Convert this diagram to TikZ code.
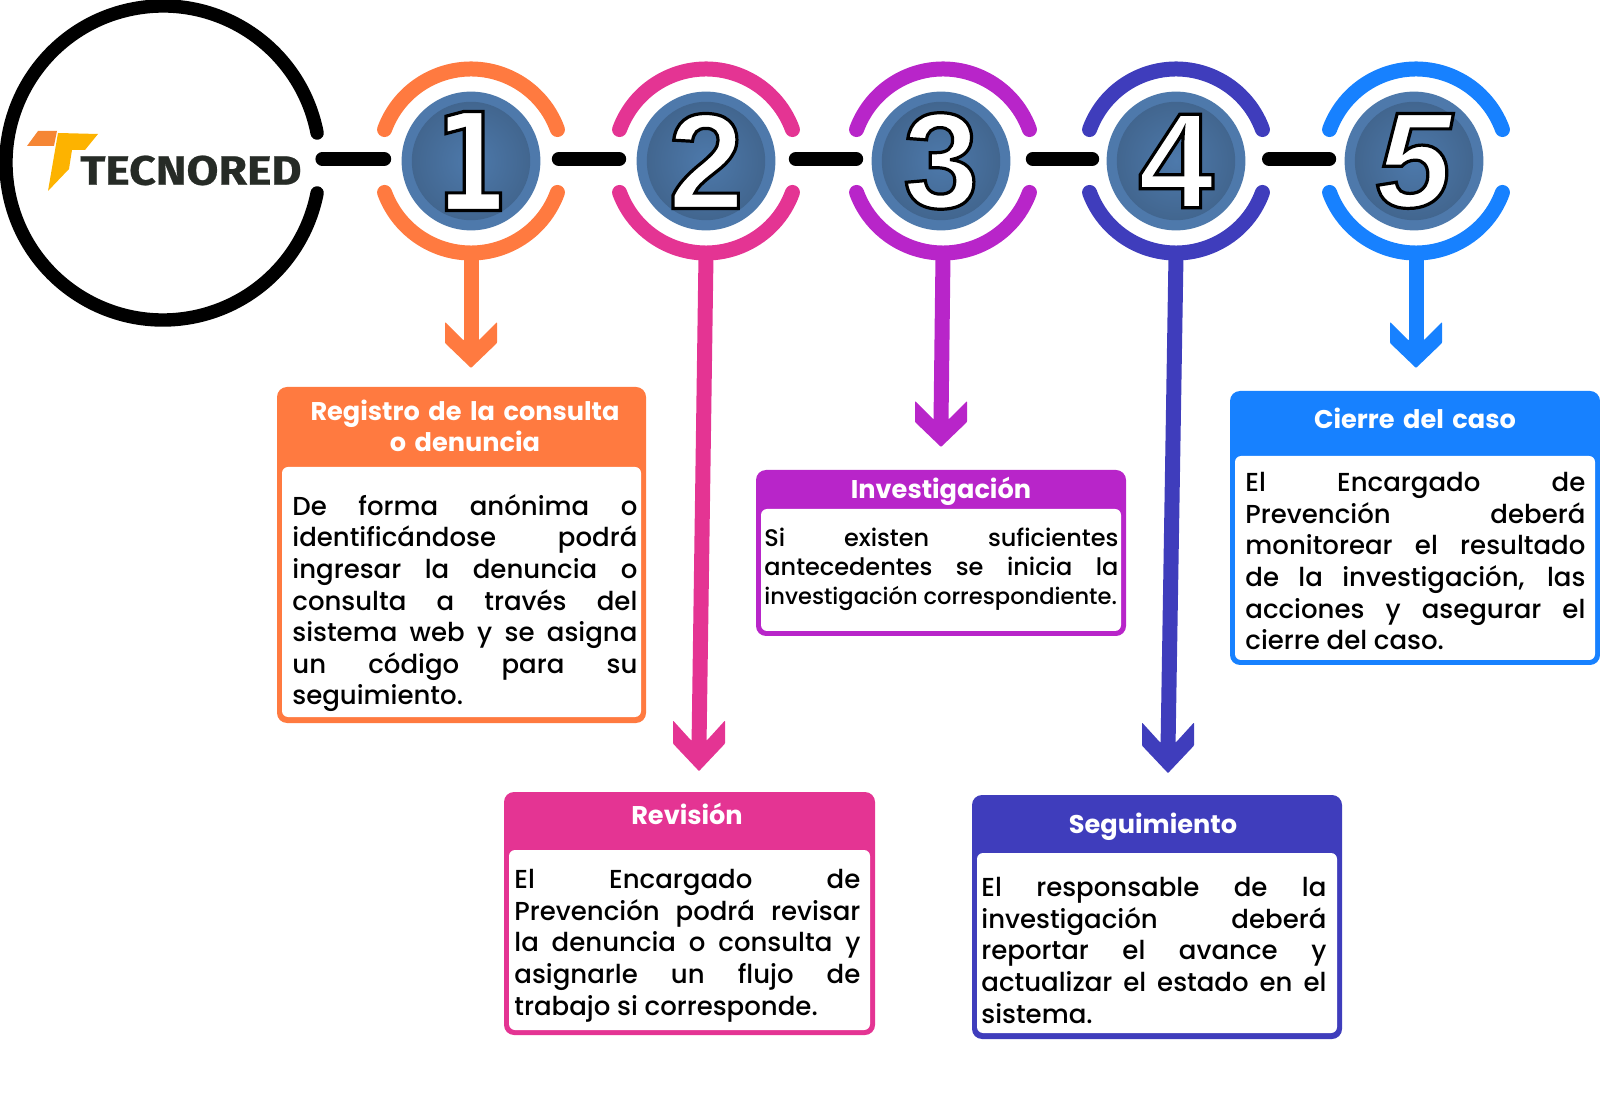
\documentclass[tikz,border=0pt]{standalone}
\usepackage{fontspec}
\usetikzlibrary{positioning, calc}
\setmainfont{Poppins Medium}[BoldFont={Poppins Bold}]
\newfontfamily\numfont{Liberation Sans}
\newfontfamily\onefont[BoldFeatures={FakeStretch=0.78}]{DejaVu Sans}
\newfontfamily\logofont[BoldFeatures={FakeStretch=1.13,FakeBold=0.6}]{Fira Sans}
\definecolor{corange}{HTML}{FF7A40}
\definecolor{cpink}{HTML}{E43493}
\definecolor{cpurple}{HTML}{B825C9}
\definecolor{cindigo}{HTML}{3F3DBC}
\definecolor{cblue}{HTML}{1781FF}
\definecolor{discedge}{HTML}{4E79AB}
\definecolor{discin}{HTML}{4D79AB}
\definecolor{discout}{HTML}{42668F}
\definecolor{logotext}{HTML}{262B26}
\definecolor{logoorange}{HTML}{F58634}
\definecolor{logoyellow}{HTML}{FDB300}
\newcommand{\outnum}[1]{\textcolor{white}{\special{pdf:code 2 Tr 1.6 w 0 0 0 RG}#1\special{pdf:code 0 Tr 1 w}}}

\begin{document}
\begin{tikzpicture}[
    x=0.5pt, y=0.5pt,
    ring/.style={line width=7.5pt, line cap=round},
    stem/.style={line width=7.5pt},
    link/.style={line width=7pt, line cap=round, black},
    disc/.style={circle, fill=discedge, minimum size=69.4pt, inner sep=0pt},
    discfill/.style={circle, inner color=discin, outer color=discout, minimum size=59.2pt, inner sep=0pt},
    number/.style={font=\numfont\bfseries\fontsize{68}{68}\selectfont},
    boxwhite/.style={fill=white, rounded corners=3pt, inner sep=0pt},
    boxtitle/.style={text=white, font=\bfseries\fontsize{12.8}{15.6}\selectfont, align=center, inner sep=0pt, text width=170pt},
    boxtext/.style={font=\fontsize{13}{15.8}\selectfont, align=justify, inner sep=0pt, anchor=north west, text=black},
    head/.pic={\fill[pic actions, rounded corners=0.4pt] (-26,45) -- (-26,24) -- (0,-1) -- (26,24) -- (26,45) -- (8,27) -- (-8,27) -- cycle;}
]
\useasboundingbox (0,-1095) rectangle (1600,0);

\node[inner sep=0pt, minimum size=163pt] (logo) at (163,-163) {};
\draw[line width=6.7pt, line cap=round, black] ([shift={(11:157)}]logo.center) arc (11:349:157);

\fill[logoorange] (27,-146) -- (38,-131) -- (57,-131) -- (54,-146) -- cycle;
\fill[logoyellow] (58,-133) -- (98,-134) -- (85,-150) -- (72,-150) -- (69,-169) -- (48,-191) -- cycle;
\node[text=logotext, font=\logofont\bfseries\fontsize{20.5}{20.5}\selectfont, anchor=west, inner sep=0pt] (brand) at (80,-170.5) {TECNORED};

\node[disc] (n1) at (471,-161) {};
\node[disc] (n2) at (706,-161) {};
\node[disc] (n3) at (941,-161) {};
\node[disc] (n4) at (1176,-161) {};
\node[disc] (n5) at (1414,-161) {};

\node[discfill] (fill1) at (n1) {};
\node[discfill] (fill2) at (n2) {};
\node[discfill] (fill3) at (n3) {};
\node[discfill] (fill4) at (n4) {};
\node[discfill] (fill5) at (n5) {};

\node[number, font=\onefont\bfseries\fontsize{68}{68}\selectfont] (num1) at (n1) {\outnum{1}};
\node[number] (num2) at (n2) {\outnum{2}};
\node[number] (num3) at (n3) {\outnum{3}};
\node[number] (num4) at (n4) {\outnum{4}};
\node[number, font=\numfont\bfseries\itshape\fontsize{68}{68}\selectfont] (num5) at (n5) {\outnum{5}};

\coordinate (c1) at (471,-161);
\coordinate (c2) at (706,-161);
\coordinate (c3) at (943,-161);
\coordinate (c4) at (1176,-161);
\coordinate (c5) at (1416,-161);

\draw[link] ([shift={(-2pt,4)}]logo.east) -- ([shift={(-8.5pt,1pt)}]n1.west);
\draw[link] ([shift={(9pt,1pt)}]n1.east) -- ([shift={(-8.5pt,1pt)}]n2.west);
\draw[link] ([shift={(10pt,1pt)}]n2.east) -- ([shift={(-7.5pt,1pt)}]n3.west);
\draw[link] ([shift={(11pt,1pt)}]n3.east) -- ([shift={(-7pt,1pt)}]n4.west);
\draw[link] ([shift={(11.6pt,1pt)}]n4.east) -- ([shift={(-7.5pt,1pt)}]n5.west);

\draw[ring, corange] ([shift={(20:92)}]c1) arc (20:160:92);
\draw[ring, corange] ([shift={(-20:92)}]c1) arc (-20:-160:92);
\draw[ring, cpink] ([shift={(20:92)}]c2) arc (20:160:92);
\draw[ring, cpink] ([shift={(-20:92)}]c2) arc (-20:-160:92);
\draw[ring, cpurple] ([shift={(20:92)}]c3) arc (20:160:92);
\draw[ring, cpurple] ([shift={(-20:92)}]c3) arc (-20:-160:92);
\draw[ring, cindigo] ([shift={(20:92)}]c4) arc (20:160:92);
\draw[ring, cindigo] ([shift={(-20:92)}]c4) arc (-20:-160:92);
\draw[ring, cblue] ([shift={(20:92)}]c5) arc (20:160:92);
\draw[ring, cblue] ([shift={(-20:92)}]c5) arc (-20:-160:92);

\coordinate (t1) at (471,-367);
\coordinate (t2) at (699,-770);
\coordinate (t3) at (941,-446);
\coordinate (t4) at (1168,-772);
\coordinate (t5) at (1416,-367);

\draw[stem, corange] ([yshift=-47pt]c1) -- ([yshift=12pt]t1);
\draw[stem, cpink] ([yshift=-47pt]c2) -- ([yshift=12pt]t2);
\draw[stem, cpurple] ([yshift=-47pt]c3) -- ([yshift=12pt]t3);
\draw[stem, cindigo] ([yshift=-47pt]c4) -- ([yshift=12pt]t4);
\draw[stem, cblue] ([yshift=-47pt]c5) -- ([yshift=12pt]t5);

\pic[fill=corange] at (t1) {head};
\pic[fill=cpink, yscale=1.1] at (t2) {head};
\pic[fill=cpurple] at (t3) {head};
\pic[fill=cindigo, yscale=1.1] at (t4) {head};
\pic[fill=cblue] at (t5) {head};

\fill[corange, rounded corners=5pt] (277,-387) rectangle (646,-723);
\fill[cpink, rounded corners=5pt] (504,-792) rectangle (875,-1035);
\fill[cpurple, rounded corners=5pt] (756,-470) rectangle (1126,-636);
\fill[cindigo, rounded corners=5pt] (972,-795) rectangle (1342,-1039);
\fill[cblue, rounded corners=5pt] (1230,-391) rectangle (1600,-665);

\fill[boxwhite] (282,-467) rectangle (641,-717);
\fill[boxwhite] (509,-850) rectangle (870,-1030);
\fill[boxwhite] (761,-509) rectangle (1121,-631);
\fill[boxwhite] (977,-853) rectangle (1337,-1033);
\fill[boxwhite] (1235,-456) rectangle (1595,-660);

\node[boxtitle] (t1a) at (465,-426) {Registro de la consulta\\o denuncia};
\node[boxtitle] (t2a) at (687,-814) {Revisión};
\node[boxtitle] (t3a) at (941,-491) {Investigación};
\node[boxtitle] (t4a) at (1153,-827) {Seguimiento};
\node[boxtitle] (t5a) at (1415,-418) {Cierre del caso};

\node[boxtext, text width=172.5pt] (d1) at (292,-494) {De forma anónima o\linebreak identificándose podrá\linebreak ingresar la denuncia o\linebreak consulta a través del\linebreak sistema web y se asigna\linebreak un código para su\linebreak seguimiento.};
\node[boxtext, text width=173pt] (d2) at (514,-869) {El Encargado de\linebreak Prevención podrá revisar\linebreak la denuncia o consulta y\linebreak asignarle un flujo de\linebreak trabajo si corresponde.};
\node[boxtext, text width=177pt, font=\fontsize{12}{14.5}\selectfont] (d3) at (764,-528) {Si existen suficientes\linebreak antecedentes se inicia la\linebreak \mbox{\fontsize{11.3}{14.5}\selectfont investigación correspondiente.}};
\node[boxtext, text width=172.5pt] (d4) at (981,-877) {El responsable de la\linebreak investigación deberá\linebreak reportar el avance y\linebreak actualizar el estado en el\linebreak sistema.};
\node[boxtext, text width=170pt] (d5) at (1245,-472) {El Encargado de\linebreak Prevención deberá\linebreak monitorear el resultado\linebreak de la investigación, las\linebreak acciones y asegurar el\linebreak cierre del caso.};

\end{tikzpicture}
\end{document}
